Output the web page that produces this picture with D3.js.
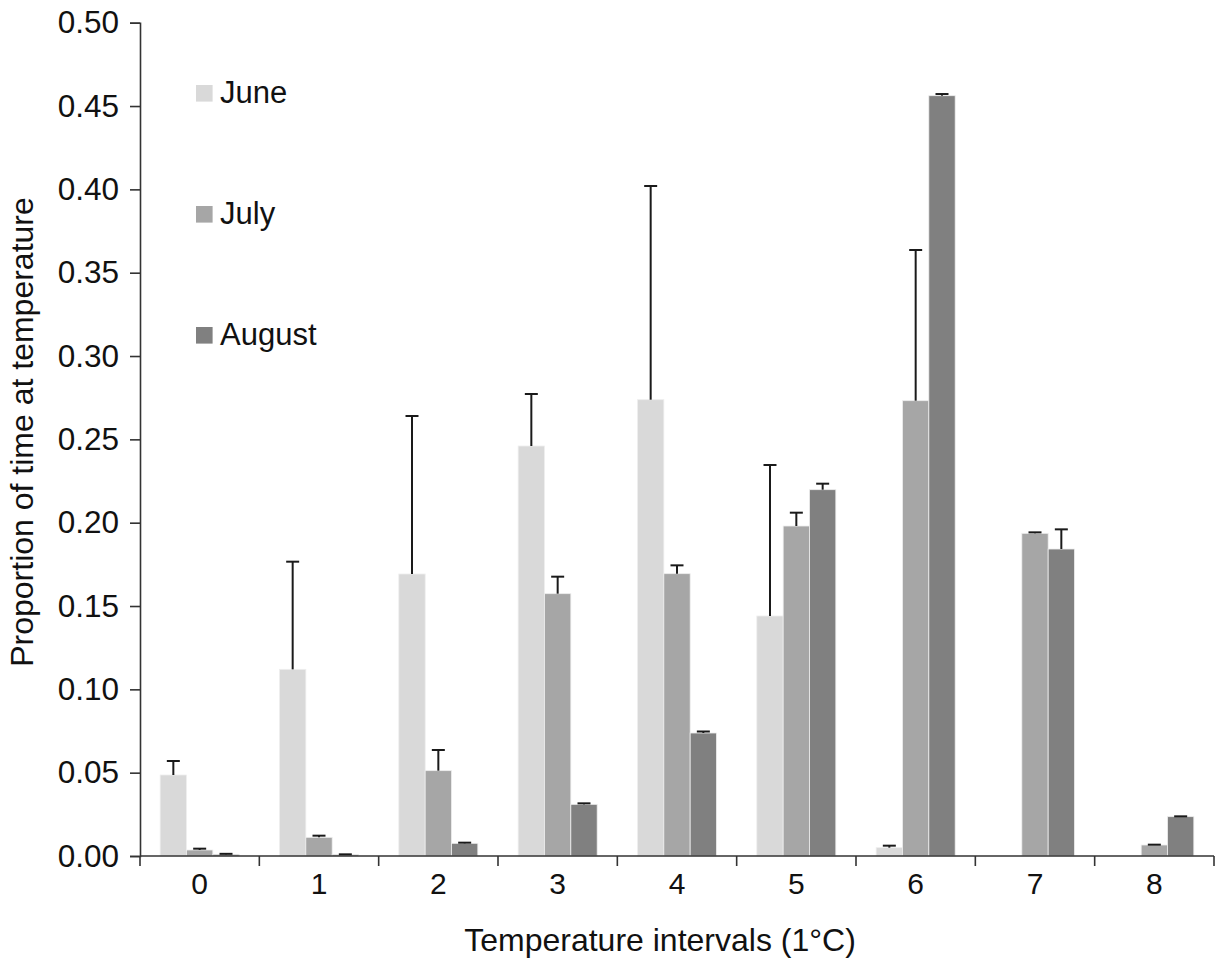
<!DOCTYPE html>
<html>
<head>
<meta charset="utf-8">
<script src="https://cdn.jsdelivr.net/npm/d3@7"></script>
<style>
  html, body { margin: 0; padding: 0; background: #fff; }
  svg { display: block; }
  text { font-family: "Liberation Sans", Arial, Helvetica, sans-serif; fill: #111; }
</style>
</head>
<body>
<svg id="chart" width="1215" height="966"></svg>
<script>
// Temperature interval categories (1 °C bins)
const categories = ["0", "1", "2", "3", "4", "5", "6", "7", "8"];
const months = ["June", "July", "August"];

// Mean proportion of time spent in each interval, per month
const june   = [0.0486, 0.1120, 0.1692, 0.2460, 0.2738, 0.1440, 0.0050, 0, 0];
const july   = [0.0036, 0.0112, 0.0512, 0.1574, 0.1694, 0.1980, 0.2732, 0.1936, 0.0066];
const august = [0.0010, 0.0008, 0.0076, 0.0310, 0.0738, 0.2198, 0.4562, 0.1842, 0.0236];

// Upper end of each error bar (mean + error)
const juneErr   = [0.0570, 0.1766, 0.2640, 0.2772, 0.4020, 0.2346, 0.0062, null, null];
const julyErr   = [0.0044, 0.0122, 0.0636, 0.1676, 0.1744, 0.2060, 0.3636, 0.1942, 0.0068];
const augustErr = [0.0013, 0.0010, 0.0080, 0.0316, 0.0747, 0.2234, 0.4572, 0.1960, 0.0238];

const yTicks = [0, 0.05, 0.10, 0.15, 0.20, 0.25, 0.30, 0.35, 0.40, 0.45, 0.50];
const colors = ["#d9d9d9", "#a6a6a6", "#808080"];

const seriesValues = [june, july, august];
const seriesErr = [juneErr, julyErr, augustErr];

const svg = d3.select("#chart");
const plotLeft = 140, plotRight = 1214, plotTop = 22.7, plotBottom = 856;

const x = d3.scaleBand()
  .domain(categories)
  .range([plotLeft, plotRight])
  .paddingInner(0.338)
  .paddingOuter(0.169);

const xSub = d3.scaleBand()
  .domain(months)
  .range([0, x.bandwidth()]);

const y = d3.scaleLinear().domain([0, 0.5]).range([plotBottom, plotTop]);

const color = d3.scaleOrdinal().domain(months).range(colors);

// Flatten into one record per bar
const records = [];
categories.forEach((c, i) => {
  months.forEach((m, j) => {
    records.push({ cat: c, month: m, value: seriesValues[j][i], err: seriesErr[j][i] });
  });
});

// Bars
svg.append("g")
  .selectAll("rect")
  .data(records.filter(d => d.value > 0))
  .join("rect")
  .attr("x", d => x(d.cat) + xSub(d.month))
  .attr("y", d => y(d.value))
  .attr("width", xSub.bandwidth())
  .attr("height", d => y(0) - y(d.value))
  .attr("fill", d => color(d.month))
  .attr("stroke", "#eeeeee")
  .attr("stroke-width", 0.8);

// Error bars
const eb = svg.append("g")
  .selectAll("g")
  .data(records.filter(d => d.err != null && d.value > 0))
  .join("g")
  .attr("stroke", "#1a1a1a")
  .attr("stroke-width", 2);

eb.append("line")
  .attr("x1", d => x(d.cat) + xSub(d.month) + xSub.bandwidth() / 2)
  .attr("x2", d => x(d.cat) + xSub(d.month) + xSub.bandwidth() / 2)
  .attr("y1", d => y(d.value))
  .attr("y2", d => y(d.err));

eb.append("line")
  .attr("x1", d => x(d.cat) + xSub(d.month) + xSub.bandwidth() / 2 - 6.5)
  .attr("x2", d => x(d.cat) + xSub(d.month) + xSub.bandwidth() / 2 + 6.5)
  .attr("y1", d => y(d.err))
  .attr("y2", d => y(d.err));

// Y axis
const yAxis = svg.append("g")
  .attr("transform", `translate(${plotLeft},0)`)
  .call(d3.axisLeft(y).tickValues(yTicks).tickFormat(d3.format(".2f")).tickSize(10).tickPadding(11));
yAxis.select(".domain").attr("stroke", "#333").attr("stroke-width", 1.6);
yAxis.selectAll(".tick line").attr("stroke", "#333").attr("stroke-width", 1.6);
yAxis.selectAll("text").style("font-size", "31.5px").attr("fill", "#111");

// X axis: category labels centred under each group
const xAxis = svg.append("g")
  .attr("transform", `translate(0,${plotBottom})`)
  .call(d3.axisBottom(x).tickSize(0).tickPadding(17));
xAxis.select(".domain").remove();
xAxis.selectAll("text").style("font-size", "30px").attr("fill", "#111");

// X axis baseline and boundary ticks between categories
const boundaries = categories.map(c => x(c) - x.step() * x.paddingInner() / 2)
  .concat([plotRight]);
svg.append("line")
  .attr("x1", plotLeft).attr("x2", plotRight)
  .attr("y1", plotBottom).attr("y2", plotBottom)
  .attr("stroke", "#333").attr("stroke-width", 1.6);
svg.append("g")
  .selectAll("line")
  .data(boundaries)
  .join("line")
  .attr("x1", d => d).attr("x2", d => d)
  .attr("y1", plotBottom).attr("y2", plotBottom + 10)
  .attr("stroke", "#333").attr("stroke-width", 1.6);

// Axis titles
svg.append("text")
  .attr("x", 660).attr("y", 951)
  .attr("text-anchor", "middle")
  .style("font-size", "32px")
  .text("Temperature intervals (1°C)");

svg.append("text")
  .attr("transform", "translate(33,432) rotate(-90)")
  .attr("text-anchor", "middle")
  .style("font-size", "32px")
  .text("Proportion of time at temperature");

// Legend
const legendY = [85, 206, 327];
const legend = svg.append("g")
  .selectAll("g")
  .data(months)
  .join("g")
  .attr("transform", (d, i) => `translate(196,${legendY[i]})`);
legend.append("rect")
  .attr("width", 16.6).attr("height", 16.6)
  .attr("fill", d => color(d));
legend.append("text")
  .attr("x", 24).attr("y", 18)
  .style("font-size", "31px")
  .text(d => d);
</script>
</body>
</html>
